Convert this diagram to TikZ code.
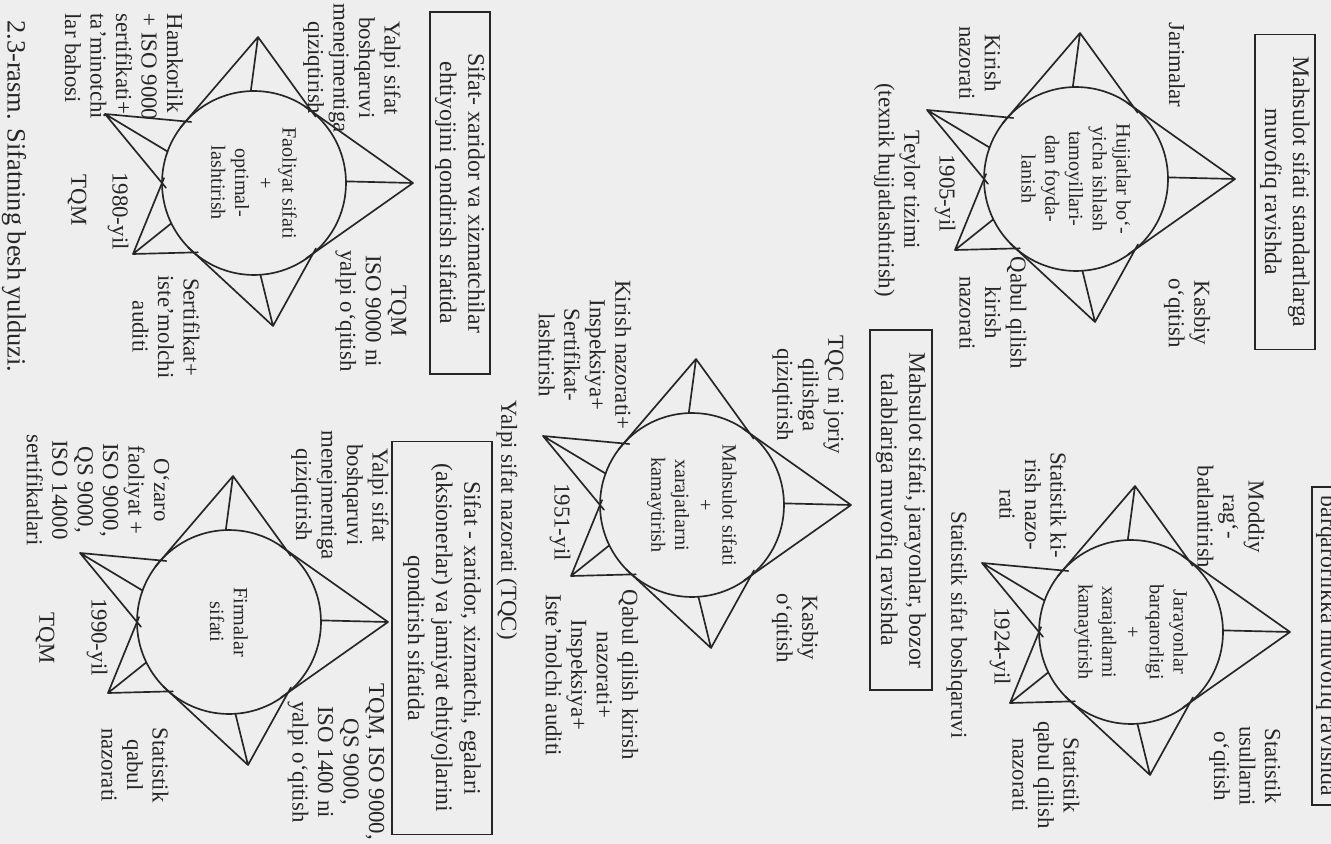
\documentclass[tikz,border=0pt]{standalone}
\usepackage{fontspec}
\setmainfont{Liberation Serif}
\usetikzlibrary{calc}
\definecolor{ink}{HTML}{262626}
\definecolor{paper}{HTML}{EEEEEE}
\newcommand\lblfont{\fontsize{13}{14.5}\selectfont}
\newcommand\ctrfont{\fontsize{11.5}{13.5}\selectfont}
\newcommand\boxfont{\fontsize{13.5}{16}\selectfont}
\newcommand\capfont{\fontsize{15}{18}\selectfont}
\tikzset{
  lbl/.style={rotate=-90, align=center, font=\lblfont, text=ink, inner sep=0pt},
  ctr/.style={draw=ink, line width=0.95pt, circle, minimum size=3.68cm, inner sep=0pt,
              rotate=-90, align=center, font=\ctrfont, text=ink},
  hdr/.style={draw=ink, line width=0.8pt, rotate=-90, align=center, font=\boxfont,
              text=ink, inner sep=0pt},
  starline/.style={draw=ink, line width=0.95pt, line cap=round, line join=round},
}
% #1 name, #2 centre, #3 text in the circle
\newcommand\qstar[3]{%
  \node[ctr] (#1) at #2 {#3};
  \path ($(#1.center)+(159,0)$)    coordinate (#1t0)
        ($(#1.center)+(19,143)$)   coordinate (#1t1)
        ($(#1.center)+(-121,71)$)  coordinate (#1t2)
        ($(#1.center)+(-149,-69)$) coordinate (#1t3)
        ($(#1.center)+(4,-146)$)   coordinate (#1t4)
        ($(#1.center)+(50:92)$)    coordinate (#1i01)
        ($(#1.center)+(131:92)$)   coordinate (#1i12)
        ($(#1.center)+(180:92)$)   coordinate (#1i23)
        ($(#1.center)+(222:92)$)   coordinate (#1i34)
        ($(#1.center)+(309:92)$)   coordinate (#1i40)
        ($(#1.center)+(359:92)$)   coordinate (#1r0)
        ($(#1.center)+(86:92)$)    coordinate (#1r1)
        ($(#1.center)+(154:92)$)   coordinate (#1r2)
        ($(#1.center)+(200:92)$)   coordinate (#1r3)
        ($(#1.center)+(268:92)$)   coordinate (#1r4);
  \draw[starline]
     (#1t0) -- ($(#1t0)!1.07!(#1i40)$)  (#1t0) -- ($(#1t0)!1.07!(#1i01)$)  (#1t0) -- (#1r0)
     (#1t1) -- ($(#1t1)!1.07!(#1i01)$)  (#1t1) -- ($(#1t1)!1.07!(#1i12)$)  (#1t1) -- (#1r1)
     (#1t2) -- ($(#1t2)!1.07!(#1i12)$)  (#1t2) -- ($(#1t2)!1.07!(#1i23)$)  (#1t2) -- (#1r2)
     (#1t3) -- ($(#1t3)!1.07!(#1i23)$)  (#1t3) -- ($(#1t3)!1.07!(#1i34)$)  (#1t3) -- (#1r3)
     (#1t4) -- ($(#1t4)!1.07!(#1i34)$)  (#1t4) -- ($(#1t4)!1.07!(#1i40)$)  (#1t4) -- (#1r4);
}
\begin{document}
\begin{tikzpicture}[x=0.02cm, y=-0.02cm]
\useasboundingbox (0,0) rectangle (1331,844);
\clip (0,0) rectangle (1331,844);
\fill[paper] (0,0) rectangle (1331,844);

% ---------- header boxes ----------
\node[hdr, minimum width=6.3cm, minimum height=1.2cm] (h1) at (1285,192)
  {Mahsulot sifati standartlarga\\muvofiq ravishda};
\node[hdr, minimum width=6.36cm, minimum height=1.2cm] (h2) at (1342,646) {};
\node[lbl, font=\boxfont] (h2t) at (1327,646) {barqarorlikka muvofiq ravishda};
\node[hdr, minimum width=7.2cm, minimum height=1.24cm] (h3) at (901,510)
  {Mahsulot sifati, jarayonlar, bozor\\talablariga muvofiq ravishda};
\node[hdr, minimum width=7.24cm, minimum height=1.2cm] (h4) at (460,193)
  {Sifat- xaridor va xizmatchilar\\ehtiyojini qondirish sifatida};
\node[hdr, minimum width=7.86cm, minimum height=2.0cm] (h5) at (442,638)
  {Sifat - xaridor, xizmatchi, egalari\\(aksionerlar) va jamiyat ehtiyojlarini\\qondirish sifatida};

% ---------- star 1 (1905) ----------
\qstar{sa}{(1076,179)}{Hujjatlar bo‘-\\yicha ishlash\\tamoyillari-\\dan foyda-\\lanish}
\node[lbl] (sa1) at (1177,65) {Jarimalar};
\node[lbl] (sa2) at (980,63) {Kirish\\nazorati};
\node[lbl] (sa3) at (945,193) {1905-yil};
\node[lbl] (sa4) at (1187,313) {Kasbiy\\o‘qitish};
\node[lbl] (sa5) at (993,313) {Qabul qilish\\kirish\\nazorati};
\node[lbl] (sa6) at (897,190) {Teylor tizimi\\(texnik hujjatlashtirish)};

% ---------- star 2 (1924) ----------
\qstar{sb}{(1131,632)}{Jarayonlar\\barqarorligi\\+\\xarajatlarni\\kamaytirish}
\node[lbl] (sb1) at (1231,517) {Moddiy\\rag‘-\\batlantirish};
\node[lbl] (sb2) at (1245,766) {Statistik\\usullarni\\o‘qitish};
\node[lbl] (sb3) at (1033,505) {Statistik ki-\\rish nazo-\\rati};
\node[lbl] (sb4) at (1046,775) {Statistik\\qabul qilish\\nazorati};
\node[lbl] (sb5) at (1000,646) {1924-yil};
\node[lbl] (sb6) at (957,625) {Statistik sifat boshqaruvi};

% ---------- star 3 (1951) ----------
\qstar{sc}{(692,505)}{Mahsulot sifati\\+\\xarajatlarni\\kamaytirish}
\node[lbl] (sc1) at (808,395) {TQC ni joriy\\qilishga\\qiziqtirish};
\node[lbl] (sc2) at (795,628) {Kasbiy\\o‘qitish};
\node[lbl] (sc3) at (585,355) {Kirish nazorati+\\Inspeksiya+\\Sertifikat-\\lashtirish};
\node[lbl] (sc4) at (592,675) {Qabul qilish kirish\\nazorati+\\Inspeksiya+\\Iste’molchi auditi};
\node[lbl] (sc5) at (560,522) {1951-yil};
\node[lbl] (sc6) at (507,520) {Yalpi sifat nazorati (TQC)};

% ---------- star 4 (1980) ----------
\qstar{sd}{(254,183)}{Faoliyat sifati\\+\\optimal-\\lashtirish}
\node[lbl] (sd1) at (352,68) {Yalpi sifat\\boshqaruvi\\menejmentiga\\qiziqtirish};
\node[lbl] (sd2) at (371,311) {TQM\\ISO 9000 ni\\yalpi o‘qitish};
\node[lbl, align=left] (sd3) at (124,67) {Hamkorlik\\+ ISO 9000\\sertifikati+\\ta’minotchi\\lar bahosi};
\node[lbl] (sd4) at (166,327) {Sertifikat+\\iste’molchi\\auditi};
\node[lbl] (sd5) at (118,211) {1980-yil};
\node[lbl] (sd6) at (77,200) {TQM};

% ---------- star 5 (1990) ----------
\qstar{se}{(229,622)}{Firmalar\\sifati}
\node[lbl] (se1) at (340,495) {Yalpi sifat\\boshqaruvi\\menejmentiga\\qiziqtirish};
\node[lbl] (se2) at (336,762) {TQM, ISO 9000,\\QS 9000,\\ISO 1400 ni\\yalpi o‘qitish};
\node[lbl] (se3) at (98,490) {O‘zaro\\faoliyat +\\ISO 9000,\\QS 9000,\\ISO 14000\\sertifikatlari};
\node[lbl] (se4) at (135,765) {Statistik\\qabul\\nazorati};
\node[lbl] (se5) at (97,637) {1990-yil};
\node[lbl] (se6) at (45,638) {TQM};

% ---------- caption ----------
\node[lbl, font=\capfont, anchor=west] (cap) at (14,20) {2.3-rasm. Sifatning besh yulduzi.};
\end{tikzpicture}
\end{document}
